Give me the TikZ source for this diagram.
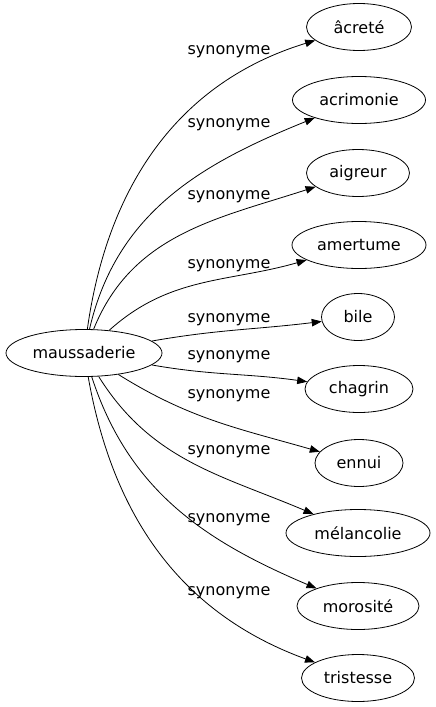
\documentclass[tikz,border=0pt]{standalone}
\usepackage{fontspec}
\setmainfont{DejaVu Sans}
\usetikzlibrary{arrows.meta,shapes.geometric}

\begin{document}
\begin{tikzpicture}[>={Triangle[length=10pt,width=7.5pt]}, x=1pt, y=1pt, line width=0.8pt,
    font=\fontsize{16}{19}\selectfont,
    word/.style={ellipse, draw, inner sep=0pt, minimum height=47pt},
    syn/.style={inner sep=0pt}]

    \useasboundingbox (0,0) rectangle (436,-707);

    \node[word, minimum width=156pt]  (maussaderie)  at (84,-353)   {maussaderie};

    \node[word, minimum width=105pt]  (acrete)       at (359,-27)   {âcreté};
    \node[word, minimum width=133pt]  (acrimonie)    at (359,-100)  {acrimonie};
    \node[word, minimum width=103pt]  (aigreur)      at (358,-173)  {aigreur};
    \node[word, minimum width=134pt]  (amertume)     at (359,-245)  {amertume};
    \node[word, minimum width=73pt]   (bile)         at (358,-317)  {bile};
    \node[word, minimum width=108pt]  (chagrin)      at (359,-389)  {chagrin};
    \node[word, minimum width=88pt]   (ennui)        at (359,-463)  {ennui};
    \node[word, minimum width=144pt]  (melancolie)   at (358,-533)  {mélancolie};
    \node[word, minimum width=122pt]  (morosite)     at (358,-606)  {morosité};
    \node[word, minimum width=113pt]  (tristesse)    at (358,-678)  {tristesse};

    \node[syn] (syn1)  at (229,-52)  {synonyme};
    \node[syn] (syn2)  at (229,-125) {synonyme};
    \node[syn] (syn3)  at (229,-197) {synonyme};
    \node[syn] (syn4)  at (229,-266) {synonyme};
    \node[syn] (syn5)  at (229,-320) {synonyme};
    \node[syn] (syn6)  at (229,-357) {synonyme};
    \node[syn] (syn7)  at (229,-396) {synonyme};
    \node[syn] (syn8)  at (229,-452) {synonyme};
    \node[syn] (syn9)  at (229,-520) {synonyme};
    \node[syn] (syn10) at (229,-593) {synonyme};

    \path[->]   (maussaderie)   edge   [out=82,  in=197]   (acrete)
                                edge   [out=77,  in=202]   (acrimonie)
                                edge   [out=68,  in=198]   (aigreur)
                                edge   [out=42,  in=196]   (amertume)
                                edge   [out=10,  in=187]   (bile)
                                edge   [out=-10, in=172]   (chagrin)
                                edge   [out=-32, in=164]   (ennui)
                                edge   [out=-58, in=157]   (melancolie)
                                edge   [out=-72, in=157]   (morosite)
                                edge   [out=-80, in=160]   (tristesse);

\end{tikzpicture}
\end{document}
